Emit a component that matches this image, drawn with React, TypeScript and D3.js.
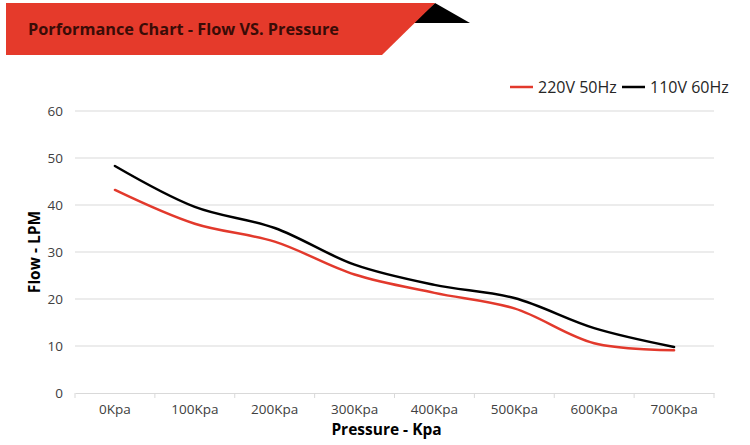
import { useEffect, useRef } from 'react'
import * as d3 from 'd3'

const categories = ['0Kpa', '100Kpa', '200Kpa', '300Kpa', '400Kpa', '500Kpa', '600Kpa', '700Kpa']
const flow220 = [43.2, 36.0, 32.2, 25.2, 21.3, 18.0, 10.6, 9.1]
const flow110 = [48.3, 39.6, 35.1, 27.3, 23.0, 20.2, 13.8, 9.8]
const yTicks = [0, 10, 20, 30, 40, 50, 60]

const series = [
  { name: '220V 50Hz', values: flow220, color: '#e2392c' },
  { name: '110V 60Hz', values: flow110, color: '#000000' },
]

const W = 750
const H = 445
const margin = { top: 111, right: 36, bottom: 52, left: 75 }

export default function App() {
  const svgRef = useRef<SVGSVGElement>(null)

  useEffect(() => {
    if (!svgRef.current) return
    const svg = d3.select(svgRef.current)
    svg.selectAll('*').remove()

    const font = '"Open Sans", "DejaVu Sans", sans-serif'
    const width = W - margin.left - margin.right
    const height = H - margin.top - margin.bottom

    // title banner
    svg.append('polygon')
      .attr('points', '413,23 435,3 470,23')
      .attr('fill', '#000')
    svg.append('polygon')
      .attr('points', '6,3 435,3 382,55 6,55')
      .attr('fill', '#e53a2b')
    svg.append('text')
      .attr('x', 28)
      .attr('y', 35)
      .attr('font-family', font)
      .attr('font-weight', 700)
      .attr('font-size', 16.3)
      .attr('fill', '#3a0c07')
      .text('Porformance Chart - Flow VS. Pressure')

    const g = svg.append('g')
      .attr('transform', `translate(${margin.left},${margin.top})`)

    const x = d3.scaleBand().domain(categories).range([0, width])
    const y = d3.scaleLinear().domain([0, 60]).range([height, 0])

    // gridlines
    g.selectAll('.grid')
      .data(yTicks.filter(t => t > 0))
      .enter().append('line')
      .attr('x1', 0)
      .attr('x2', width)
      .attr('y1', d => y(d))
      .attr('y2', d => y(d))
      .attr('stroke', '#d9d9d9')
      .attr('stroke-width', 1)

    // x axis
    const xAxis = g.append('g')
      .attr('transform', `translate(0,${height})`)
      .call(d3.axisBottom(x).tickSize(0).tickPadding(11))
    xAxis.select('.domain').attr('stroke', '#d9d9d9')
    xAxis.selectAll('text')
      .attr('font-family', font)
      .attr('font-size', 13.5)
      .attr('fill', '#404040')
    const bounds = categories.map(c => x(c) as number).concat([width])
    g.selectAll('.xtick')
      .data(bounds)
      .enter().append('line')
      .attr('x1', d => d)
      .attr('x2', d => d)
      .attr('y1', height)
      .attr('y2', height + 5)
      .attr('stroke', '#d9d9d9')

    // y axis labels
    g.selectAll('.ylab')
      .data(yTicks)
      .enter().append('text')
      .attr('x', -12)
      .attr('y', d => y(d))
      .attr('dy', '0.35em')
      .attr('text-anchor', 'end')
      .attr('font-family', font)
      .attr('font-size', 13.5)
      .attr('fill', '#404040')
      .text(d => d)

    // lines
    const line = d3.line<number>()
      .x((d, i) => (x(categories[i]) as number) + x.bandwidth() / 2)
      .y(d => y(d))
      .curve(d3.curveCatmullRom.alpha(0.5))

    series.forEach(s => {
      g.append('path')
        .datum(s.values)
        .attr('fill', 'none')
        .attr('stroke', s.color)
        .attr('stroke-width', 2.5)
        .attr('stroke-linecap', 'round')
        .attr('d', line)
    })

    // axis titles
    svg.append('text')
      .attr('transform', `translate(40,${margin.top + height / 2}) rotate(-90)`)
      .attr('text-anchor', 'middle')
      .attr('font-family', font)
      .attr('font-weight', 700)
      .attr('font-size', 15.5)
      .attr('fill', '#000')
      .text('Flow - LPM')

    svg.append('text')
      .attr('x', margin.left + width / 2 - 8)
      .attr('y', 435)
      .attr('text-anchor', 'middle')
      .attr('font-family', font)
      .attr('font-weight', 700)
      .attr('font-size', 15.5)
      .attr('fill', '#000')
      .text('Pressure - Kpa')

    // legend
    const legendPos = [510, 622]
    series.forEach((s, i) => {
      const lg = svg.append('g').attr('transform', `translate(${legendPos[i]},87)`)
      lg.append('line')
        .attr('x1', 0)
        .attr('x2', 23)
        .attr('stroke', s.color)
        .attr('stroke-width', 2.5)
      lg.append('text')
        .attr('x', 28)
        .attr('dy', '0.35em')
        .attr('font-family', font)
        .attr('font-size', 16)
        .attr('fill', '#262626')
        .text(s.name)
    })
  }, [])

  return (
    <svg
      ref={svgRef}
      width={W}
      height={H}
      style={{ position: 'absolute', left: 0, top: 0, background: '#fff' }}
    />
  )
}
